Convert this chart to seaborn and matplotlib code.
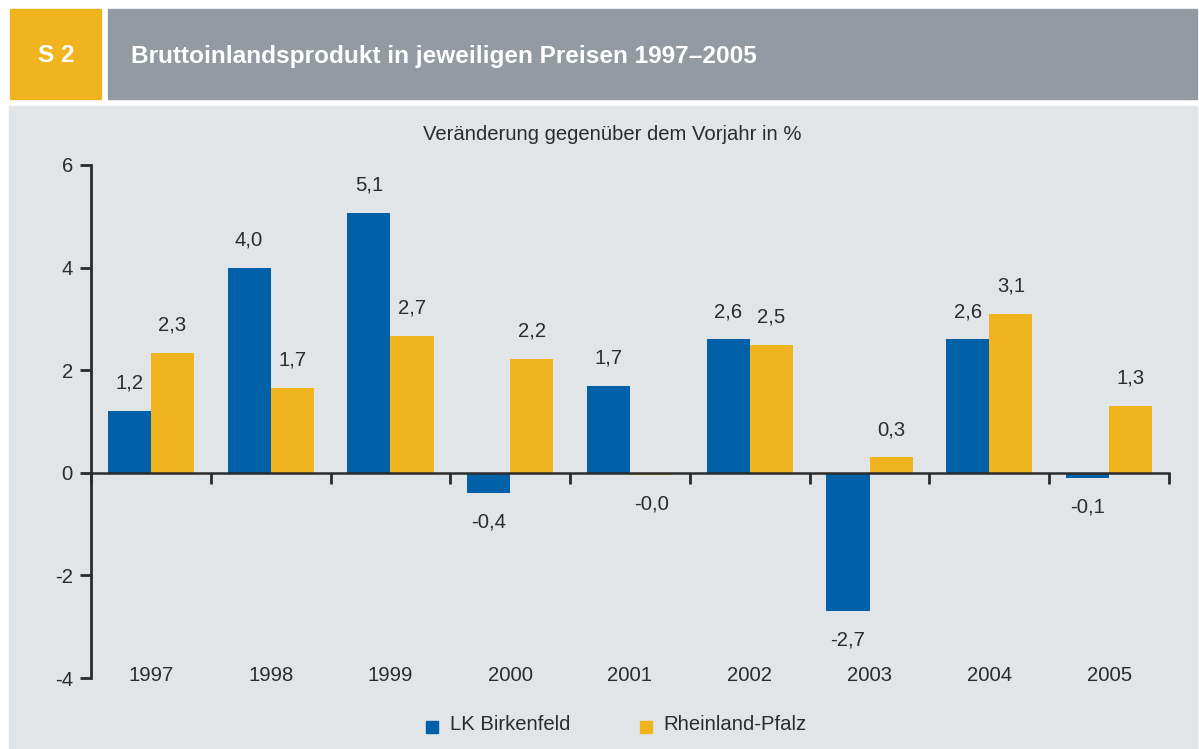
import numpy as np
import pandas as pd
import matplotlib
matplotlib.use('Agg')
import matplotlib.pyplot as plt
import matplotlib.transforms as mtransforms
from matplotlib.patches import Rectangle
import seaborn as sns

years = ['1997', '1998', '1999', '2000', '2001', '2002', '2003', '2004', '2005']
birkenfeld = [1.2, 4.0, 5.07, -0.4, 1.7, 2.6, -2.7, 2.6, -0.1]
rlp = [2.34, 1.66, 2.67, 2.22, -0.049, 2.5, 0.3, 3.1, 1.3]
series_names = ['LK Birkenfeld', 'Rheinland-Pfalz']
yticks = [-4, -2, 0, 2, 4, 6]

blue = '#0061a8'
yellow = '#f0b41f'
header_gray = '#939aa1'
panel_bg = '#e2e5e8'
dark = '#2b2b2b'
fs = 14.6

df = pd.DataFrame({
    'Jahr': years * 2,
    'Wert': birkenfeld + rlp,
    'Region': [series_names[0]] * len(years) + [series_names[1]] * len(years),
})

sns.set_style('white')
plt.rcParams['font.family'] = ['Liberation Sans', 'DejaVu Sans']

W, H = 1199, 749
fig = plt.figure(figsize=(W / 100, H / 100), dpi=100)
fig.patch.set_facecolor('white')

def px_rect(x0, y0, x1, y1, color, z=-5):
    # pixel coords (top-left origin) -> figure fraction
    fig.patches.append(Rectangle((x0 / W, 1 - y1 / H), (x1 - x0) / W, (y1 - y0) / H,
                                 transform=fig.transFigure, color=color, zorder=z))

px_rect(10, 9, 101, 99, yellow)
px_rect(108, 9, 1197, 99, header_gray)
px_rect(9, 106, 1197, 749, panel_bg)

fig.text(56 / W, 1 - 56 / H, 'S 2', color='white', fontsize=17.5, fontweight='bold',
         ha='center', va='center')
fig.text(131 / W, 1 - 56 / H, 'Bruttoinlandsprodukt in jeweiligen Preisen 1997–2005',
         color='white', fontsize=17.6, fontweight='bold', ha='left', va='center')
fig.text(612 / W, 1 - 135 / H, 'Veränderung gegenüber dem Vorjahr in %', color=dark,
         fontsize=fs, ha='center', va='center')

ax = fig.add_axes([91 / W, 1 - 678 / H, (1169 - 91) / W, (678 - 165) / H])
ax.set_facecolor('none')

sns.barplot(data=df, x='Jahr', y='Wert', hue='Region', order=years, hue_order=series_names,
            palette=[blue, yellow], width=0.72, saturation=1, linewidth=0, ax=ax, legend=False)

ax.set_xlim(-0.5, len(years) - 0.5)
ax.set_ylim(-4, 6)
ax.set_xlabel('')
ax.set_ylabel('')

for s in ['top', 'right']:
    ax.spines[s].set_visible(False)
ax.spines['left'].set_color(dark)
ax.spines['left'].set_linewidth(2)
ax.spines['bottom'].set_position(('data', 0))
ax.spines['bottom'].set_color(dark)
ax.spines['bottom'].set_linewidth(1.8)
ax.spines['bottom'].set_zorder(5)

ax.set_yticks(yticks)
ax.set_yticklabels([str(v) for v in yticks], fontsize=fs, color=dark)
ax.tick_params(axis='y', direction='out', length=8, width=2, color=dark, pad=5, left=True)

ax.set_xticks(range(len(years)))
ax.set_xticklabels([])
ax.tick_params(axis='x', which='major', length=0)
ax.set_xticks(np.arange(-0.5, len(years), 1.0), minor=True)
ax.tick_params(axis='x', which='minor', direction='out', length=8, width=2, color=dark, bottom=True)

# year labels along the bottom
trans = mtransforms.blended_transform_factory(ax.transData, ax.transAxes)
for i, y in enumerate(years):
    ax.text(i, 0.004, y, transform=trans, ha='center', va='center', fontsize=fs, color=dark)

# value labels
for cont, vals in zip(ax.containers, [birkenfeld, rlp]):
    for bar, v in zip(cont, vals):
        xc = bar.get_x() + bar.get_width() / 2
        lab = f'{v:.1f}'.replace('.', ',')
        off = 20 if v >= 0 else -21
        ax.annotate(lab, (xc, v), xytext=(0, off), textcoords='offset points',
                    ha='center', va='center', fontsize=fs, color=dark)

# legend
px_rect(426, 721, 438, 733, blue, z=1)
fig.text(450 / W, 1 - 725 / H, series_names[0], fontsize=fs, color=dark, ha='left', va='center')
px_rect(640, 721, 652, 733, yellow, z=1)
fig.text(663 / W, 1 - 725 / H, series_names[1], fontsize=fs, color=dark, ha='left', va='center')

fig.savefig('out.png', dpi=100)
